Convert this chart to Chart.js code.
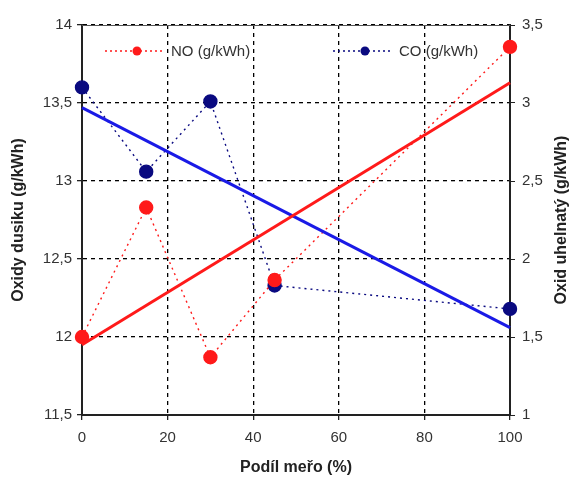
<!DOCTYPE html>
<html>
<head>
<meta charset="utf-8">
<script src="https://cdn.jsdelivr.net/npm/chart.js@4.4.0/dist/chart.umd.min.js"></script>
<style>
  html, body { margin: 0; padding: 0; background: #fff; }
  #wrap { width: 573px; height: 480px; }
</style>
</head>
<body>
<div id="wrap"><canvas id="chart" width="573" height="480"></canvas></div>
<script>
// hodnoty
const podilMero = [0, 15, 30, 45, 100];
const noValues = [12.0, 12.83, 11.87, 12.365, 13.86];
const coValues = [3.10, 2.56, 3.01, 1.83, 1.68];
const trendX = [0, 100];
const noTrend = [11.95, 13.63];
const coTrend = [2.97, 1.56];
const seriesNames = ["NO (g/kWh)", "CO (g/kWh)"];
const rightTitle = "Oxid uhelnatý (g/kWh)";

const RED = "#ff1a1a";
const NAVY = "#0a0a80";
const BLUE = "#1a1ae6";
const FONT = "'Liberation Sans', Arial, sans-serif";

const pts = (xs, ys) => xs.map((x, i) => ({ x: x, y: ys[i] }));
const comma = v => String(v).replace(".", ",");

// legenda uvnitř grafu, horní okraj a titulek pravé osy
const insideLegend = {
    id: "insideLegend",
    afterDraw(chart) {
        const { ctx, chartArea } = chart;
        ctx.save();
        // horní okraj
        ctx.strokeStyle = "#555";
        ctx.lineWidth = 1;
        ctx.beginPath();
        ctx.moveTo(chartArea.left, chartArea.top + 0.5);
        ctx.lineTo(chartArea.right, chartArea.top + 0.5);
        ctx.stroke();

        const items = [
            { x: chartArea.left + 23, color: RED, text: seriesNames[0] },
            { x: chartArea.left + 251, color: NAVY, text: seriesNames[1] }
        ];
        const y = chartArea.top + 26;
        items.forEach(it => {
            ctx.strokeStyle = it.color;
            ctx.lineWidth = 1.4;
            ctx.setLineDash([2, 3]);
            ctx.beginPath();
            ctx.moveTo(it.x, y);
            ctx.lineTo(it.x + 57, y);
            ctx.stroke();
            ctx.setLineDash([]);
            ctx.fillStyle = it.color;
            ctx.beginPath();
            ctx.arc(it.x + 32, y, 4.5, 0, Math.PI * 2);
            ctx.fill();
            ctx.fillStyle = "#333";
            ctx.font = "15px " + FONT;
            ctx.textBaseline = "middle";
            ctx.fillText(it.text, it.x + 66, y + 1);
        });

        // titulek pravé osy, čtený zdola nahoru
        ctx.translate(562, (chartArea.top + chartArea.bottom) / 2);
        ctx.rotate(-Math.PI / 2);
        ctx.fillStyle = "#222";
        ctx.font = "bold 16px " + FONT;
        ctx.textAlign = "center";
        ctx.textBaseline = "middle";
        ctx.fillText(rightTitle, 0, 0);
        ctx.restore();
    }
};

const ctx = document.getElementById("chart").getContext("2d");
const tickFont = { family: FONT, size: 15 };
const titleFont = { family: FONT, size: 16, weight: "bold" };

new Chart(ctx, {
    type: "scatter",
    data: {
        datasets: [
            {
                label: "NO trend",
                data: pts(trendX, noTrend),
                yAxisID: "y",
                showLine: true,
                borderColor: RED,
                borderWidth: 3,
                pointRadius: 0
            },
            {
                label: "CO trend",
                data: pts(trendX, coTrend),
                yAxisID: "y2",
                showLine: true,
                borderColor: BLUE,
                borderWidth: 3,
                pointRadius: 0
            },
            {
                label: seriesNames[0],
                data: pts(podilMero, noValues),
                yAxisID: "y",
                showLine: true,
                borderColor: RED,
                borderWidth: 1.4,
                borderDash: [2, 4],
                pointRadius: 6.5,
                pointBackgroundColor: RED,
                pointBorderColor: RED
            },
            {
                label: seriesNames[1],
                data: pts(podilMero, coValues),
                yAxisID: "y2",
                showLine: true,
                borderColor: NAVY,
                borderWidth: 1.4,
                borderDash: [2, 4],
                pointRadius: 6.5,
                pointBackgroundColor: NAVY,
                pointBorderColor: NAVY
            }
        ]
    },
    options: {
        responsive: false,
        animation: false,
        clip: false,
        layout: { padding: { top: 25, left: 0, right: 0, bottom: 0 } },
        plugins: {
            legend: { display: false },
            tooltip: { enabled: false }
        },
        scales: {
            x: {
                type: "linear",
                min: 0,
                max: 100,
                ticks: { stepSize: 20, color: "#333", font: tickFont, padding: 9 },
                grid: { color: "#000", lineWidth: 1.3, tickLength: 5, tickColor: "#222", tickBorderDash: [] },
                border: { color: "#222", width: 2, dash: [4, 4] },
                title: { display: true, text: "Podíl meřo (%)", color: "#222", font: titleFont, padding: { top: 6, bottom: 3 } },
                afterFit(scale) { scale.height = 65; }
            },
            y: {
                position: "left",
                min: 11.5,
                max: 14,
                ticks: { stepSize: 0.5, color: "#333", font: tickFont, padding: 5, callback: comma },
                grid: { color: "#000", lineWidth: 1.3, tickLength: 5, tickColor: "#222", tickBorderDash: [] },
                border: { color: "#222", width: 2, dash: [4, 4] },
                title: { display: true, text: "Oxidy dusiku (g/kWh)", color: "#222", font: titleFont, padding: { top: 9, bottom: 4 } },
                afterFit(scale) { scale.width = 82; }
            },
            y2: {
                position: "right",
                min: 1,
                max: 3.5,
                ticks: { stepSize: 0.5, color: "#333", font: tickFont, padding: 7, callback: comma },
                grid: { drawOnChartArea: false, tickLength: 5, tickColor: "#222", tickBorderDash: [] },
                border: { color: "#222", width: 2 },
                title: { display: false },
                afterFit(scale) { scale.width = 63; }
            }
        }
    },
    plugins: [insideLegend]
});
</script>
</body>
</html>
